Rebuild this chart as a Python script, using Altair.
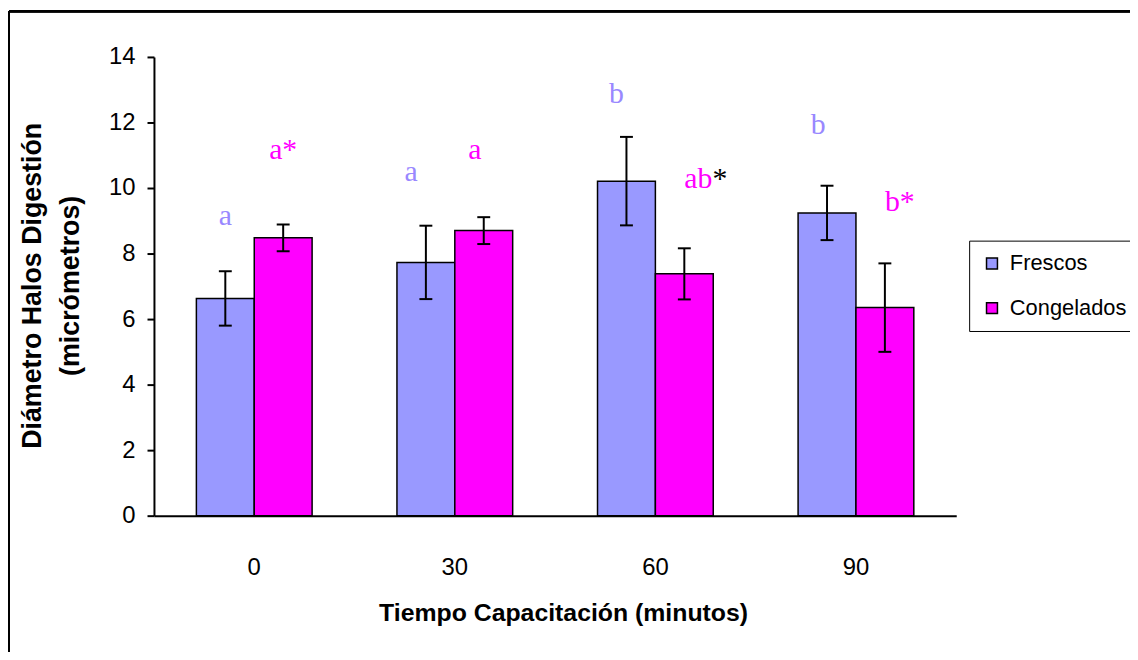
import altair as alt
import pandas as pd

# ---- data ----
tiempos = ["0", "30", "60", "90"]
series = ["Frescos", "Congelados"]
frescos = [6.63, 7.73, 10.21, 9.24]
frescos_err = [0.83, 1.12, 1.35, 0.83]
congelados = [8.48, 8.70, 7.38, 6.35]
congelados_err = [0.41, 0.41, 0.78, 1.35]

# significance letters (tiempo, serie, texto, height in data units, colour key)
ann_tiempo = ["0", "0", "30", "30", "60", "60", "60", "90", "90"]
ann_serie = ["Frescos", "Congelados", "Frescos", "Congelados", "Frescos",
             "Congelados", "Congelados", "Frescos", "Congelados"]
ann_texto = ["a", "a*", "a", "a", "b", "ab", "*", "b", "b*"]
ann_altura = [8.88, 10.88, 10.21, 10.88, 12.58, 10.0, 10.0, 11.64, 9.3]
ann_color = ["f", "c", "f", "c", "f", "c", "k", "f", "c"]
ann_dx = [0, 0, -15, -9, -10, 14, 36, -9, 15]

colores_barra = ["#9999FF", "#FF00FF"]
colores_texto = {"f": "#9988FF", "c": "#FF00FF", "k": "#000000"}

rows = []
for i, t in enumerate(tiempos):
    rows.append({"tiempo": t, "serie": "Frescos", "valor": frescos[i],
                 "lo": frescos[i] - frescos_err[i], "hi": frescos[i] + frescos_err[i]})
    rows.append({"tiempo": t, "serie": "Congelados", "valor": congelados[i],
                 "lo": congelados[i] - congelados_err[i], "hi": congelados[i] + congelados_err[i]})
df = pd.DataFrame(rows)

FONT = "Liberation Sans"
SERIF = "Liberation Serif"

x_enc = alt.X("tiempo:N", sort=tiempos,
              scale=alt.Scale(paddingInner=0.423, paddingOuter=0.2115),
              axis=alt.Axis(title="Tiempo Capacitación (minutos)", labelAngle=0,
                            ticks=False, tickSize=0, labelPadding=40,
                            labelFontSize=24, titleFontSize=25, titleFontWeight="bold",
                            titleBaseline="alphabetic", titleAlign="center",
                            titleY=106, titleX=412))
xo_enc = alt.XOffset("serie:N", sort=series, scale=alt.Scale(paddingInner=0, paddingOuter=0))
y_scale = alt.Scale(domain=[0, 14], nice=False, zero=True)

bars = alt.Chart(df).mark_bar(stroke="black", strokeWidth=1.5).encode(
    x=x_enc,
    xOffset=xo_enc,
    y=alt.Y("valor:Q", scale=y_scale,
            axis=alt.Axis(values=list(range(0, 15, 2)), title=["Diámetro Halos Digestión", "(micrómetros)"],
                          tickSize=7, labelPadding=12, labelFontSize=24,
                          titleFontSize=27, titleFontWeight="bold", titleLineHeight=38,
                          titleAngle=-90, titleBaseline="alphabetic", titleAlign="center",
                          titleX=-114, titleY=230)),
    color=alt.Color("serie:N", sort=series,
                    scale=alt.Scale(domain=series, range=colores_barra),
                    legend=alt.Legend(title=None, orient="none", legendX=821, legendY=185,
                                      strokeColor="black", padding=12, labelFontSize=22,
                                      labelFont=FONT, symbolType="square", symbolSize=121,
                                      symbolStrokeColor="black", symbolStrokeWidth=1.5,
                                      symbolOpacity=1, rowPadding=23, labelOffset=7,
                                      labelColor="black")),
)

err_rule = alt.Chart(df).mark_rule(color="black", strokeWidth=2).encode(
    x=alt.X("tiempo:N", sort=tiempos), xOffset=alt.XOffset("serie:N", sort=series),
    y=alt.Y("lo:Q", scale=y_scale), y2="hi:Q")
cap_lo = alt.Chart(df).mark_tick(color="black", orient="horizontal", size=13, thickness=2, opacity=1).encode(
    x=alt.X("tiempo:N", sort=tiempos), xOffset=alt.XOffset("serie:N", sort=series),
    y=alt.Y("lo:Q", scale=y_scale))
cap_hi = alt.Chart(df).mark_tick(color="black", orient="horizontal", size=13, thickness=2, opacity=1).encode(
    x=alt.X("tiempo:N", sort=tiempos), xOffset=alt.XOffset("serie:N", sort=series),
    y=alt.Y("hi:Q", scale=y_scale))

layers = [bars, err_rule, cap_lo, cap_hi]
for i in range(len(ann_texto)):
    d = pd.DataFrame([{"tiempo": ann_tiempo[i], "serie": ann_serie[i],
                       "texto": ann_texto[i], "altura": ann_altura[i]}])
    layers.append(
        alt.Chart(d).mark_text(font=SERIF, fontSize=30, baseline="alphabetic",
                               align="center", dx=ann_dx[i],
                               color=colores_texto[ann_color[i]]).encode(
            x=alt.X("tiempo:N", sort=tiempos), xOffset=alt.XOffset("serie:N", sort=series),
            y=alt.Y("altura:Q", scale=y_scale), text="texto:N"))

# outer figure frame (top and left edges visible in the reference)
frame_top = alt.Chart(df).mark_rule(color="black", strokeWidth=2).encode(
    x=alt.value(-146), x2=alt.value(1200), y=alt.value(-46))
frame_left = alt.Chart(df).mark_rule(color="black", strokeWidth=2).encode(
    x=alt.value(-146), y=alt.value(-46), y2=alt.value(800))
layers += [frame_top, frame_left]

chart = alt.layer(*layers).properties(
    width=808, height=462,
    autosize=alt.AutoSizeParams(type="none"),
    padding={"left": 147, "top": 47, "right": 175, "bottom": 135},
    background="white",
).configure_view(stroke=None).configure_axis(
    grid=False, domainColor="black", domainWidth=2, tickColor="black", tickWidth=2,
    labelFont=FONT, titleFont=FONT, labelColor="black", titleColor="black",
)

chart.save("out.html", embed_options={"renderer": "svg", "actions": False})
